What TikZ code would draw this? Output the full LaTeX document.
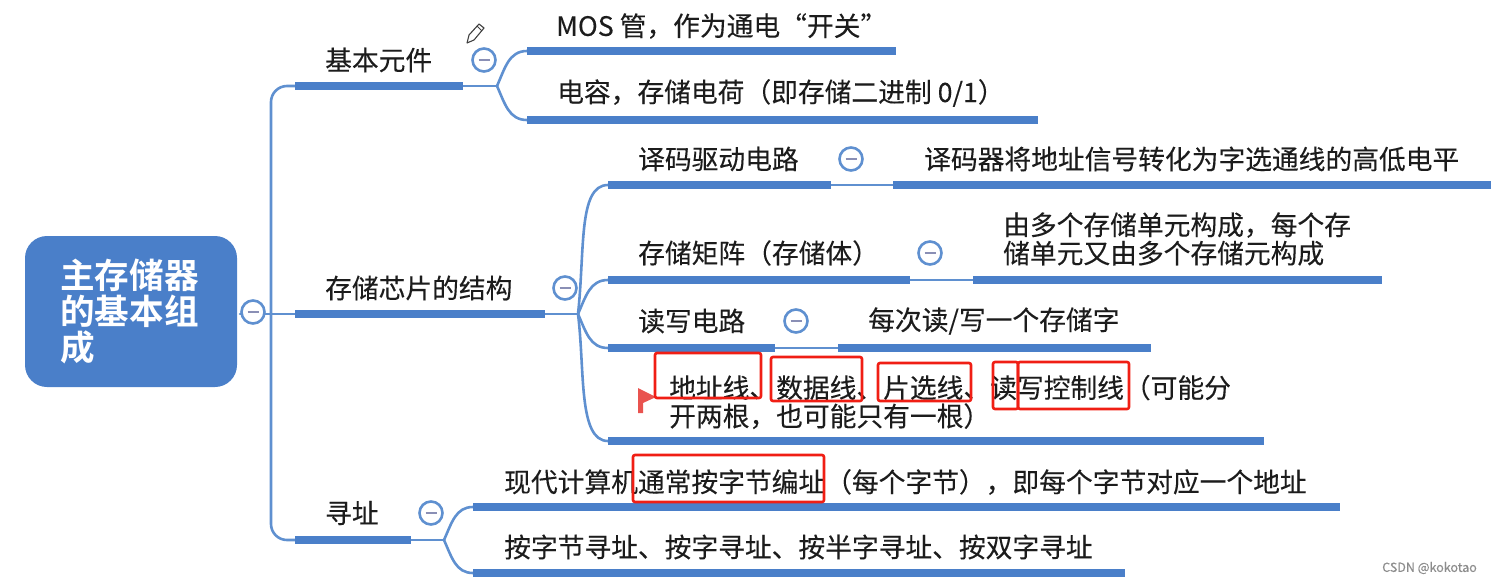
\documentclass[tikz,border=0pt]{standalone}
\usepackage{fontspec}
\setmainfont{Noto Sans CJK SC}[FakeBold=0.2]
\newfontfamily\rootfont{Noto Sans CJK SC Bold}
\usetikzlibrary{calc}
\definecolor{mapblue}{HTML}{4A7FC9}
\definecolor{linkblue}{HTML}{5F90D0}
\definecolor{minusgray}{HTML}{8A8FB5}
\definecolor{boxred}{HTML}{F01E14}
\definecolor{flagred}{HTML}{E9534F}
\definecolor{txt}{HTML}{1C1C1C}
\tikzset{
  lbl/.style={anchor=west,inner sep=0pt,text=txt,font=\fontsize{26.75}{28.4}\selectfont,align=left},
  bar/.style={line width=7.5pt,draw=mapblue},
  link/.style={line width=2.6pt,draw=linkblue,line cap=round},
  redbox/.style={draw=boxred,line width=2.6pt,rounded corners=2pt},
  rootbox/.style={fill=mapblue,draw=none,rounded corners=22pt,minimum width=212pt,minimum height=151pt,inner sep=0pt},
  toggle/.style={circle,fill=white,draw=linkblue,line width=2.6pt,minimum size=23pt,inner sep=0pt,
     path picture={\draw[minusgray,line width=2.2pt] ($(path picture bounding box.center)+(-5.5pt,0)$) -- ($(path picture bounding box.center)+(5.5pt,0)$);}},
}
\begin{document}
\begin{tikzpicture}[x=1pt,y=-1pt]
\useasboundingbox (0,0) rectangle (1491,582);
% coordinates
\coordinate (hubR) at (240,314);
\coordinate (spine) at (271,314);
\coordinate (a1) at (295,86);\coordinate (a2) at (463,86);
\coordinate (b1) at (295,314);\coordinate (b2) at (545,314);
\coordinate (c1) at (295,540);\coordinate (c2) at (411,540);
\coordinate (hubA) at (497,86);\coordinate (hubB) at (578,314);\coordinate (hubC) at (444,540);
\coordinate (a11) at (527,51);\coordinate (a12) at (896,51);
\coordinate (a21) at (527,120);\coordinate (a22) at (1038,120);
\coordinate (b11) at (608,185);\coordinate (b12) at (831,185);\coordinate (b13) at (893,185);\coordinate (b14) at (1491,185);
\coordinate (b21) at (608,280);\coordinate (b22) at (910,280);\coordinate (b23) at (973,280);\coordinate (b24) at (1382,280);
\coordinate (b31) at (608,348);\coordinate (b32) at (775,348);\coordinate (b33) at (838,348);\coordinate (b34) at (1151,348);
\coordinate (b41) at (608,441);\coordinate (b42) at (1264,441);
\coordinate (c11) at (473,507);\coordinate (c12) at (1340,507);
\coordinate (c21) at (473,573);\coordinate (c22) at (1125,573);
% links
\draw[link] (hubR) -- (b1);
\draw[link,rounded corners=16pt] (spine) |- (a1);
\draw[link,rounded corners=16pt] (spine) |- (c1);
\draw[link] (a2) -- (hubA);
\draw[link] (b2) -- (hubB);
\draw[link] (c2) -- (hubC);
\draw[link] (hubA) .. controls (505,68) and (509,51) .. (a11);
\draw[link] (hubA) .. controls (505,104) and (509,120) .. (a21);
\draw[link] (hubB) .. controls (585,250) and (578,185) .. (b11);
\draw[link] (hubB) .. controls (586,296) and (590,280) .. (b21);
\draw[link] (hubB) .. controls (586,332) and (590,348) .. (b31);
\draw[link] (hubB) .. controls (585,370) and (578,441) .. (b41);
\draw[link] (hubC) .. controls (452,522) and (456,507) .. (c11);
\draw[link] (hubC) .. controls (452,558) and (456,573) .. (c21);
\draw[link,line width=2pt] (b12) -- (b13);
\draw[link,line width=2pt] (b22) -- (b23);
\draw[link,line width=2pt] (b32) -- (b33);
% bars
\foreach \p/\q in {a1/a2,b1/b2,c1/c2,a11/a12,a21/a22,b11/b12,b13/b14,b21/b22,b23/b24,b31/b32,b33/b34,b41/b42,c11/c12,c21/c22}
  \draw[bar] (\p) -- (\q);
% root
\node[rootbox] (root) at (131,311.5) {};
\node[anchor=west,inner sep=0pt,text=white,align=left,font=\rootfont\fontsize{34.6}{36}\selectfont] (roottxt) at (60,311) {主存储器\\的基本组\\成};
% toggles
\node[toggle] (tR) at (253,312) {};
\node[toggle] (tA) at (484,60) {};
\node[toggle] (tB) at (565,288) {};
\node[toggle] (tC) at (431,513) {};
\node[toggle] (tB1) at (851,159) {};
\node[toggle] (tB2) at (930,253) {};
\node[toggle] (tB3) at (796,321) {};
% labels
\node[lbl] (la) at (325,60) {基本元件};
\node[lbl] (lb) at (325,288) {存储芯片的结构};
\node[lbl] (lc) at (325,513) {寻址};
\node[lbl] (la1) at (556,26) {MOS 管，作为通电“开关”};
\node[lbl] (la2) at (557,93) {电容，存储电荷（即存储二进制 0/1）};
\node[lbl] (lb1) at (638,159) {译码驱动电路};
\node[lbl] (lb1d) at (924,159) {译码器将地址信号转化为字选通线的高低电平};
\node[lbl] (lb2) at (638,253) {存储矩阵（存储体）};
\node[lbl] (lb2d) at (1003,239) {由多个存储单元构成，每个存\\储单元又由多个存储元构成};
\node[lbl] (lb3) at (638,321) {读写电路};
\node[lbl] (lb3d) at (868,321) {每次读/写一个存储字};
\node[lbl] (lb4) at (669,402) {地址线、数据线、片选线、读写控制线（可能分\\开两根，也可能只有一根）};
\node[lbl] (lc1) at (504,482) {现代计算机通常按字节编址（每个字节），即每个字节对应一个地址};
\node[lbl] (lc2) at (504,547) {按字节寻址、按字寻址、按半字寻址、按双字寻址};
% flag
\fill[flagred] (638,388) -- (656,397) -- (643,403) -- (643,413) -- (638,413) -- cycle;
% pencil
\draw[black!75,line width=1.1pt,line join=round,fill=white] (467,43) -- (469,35) -- (479,24) -- (484,28) -- (474,40) -- cycle;
\draw[black!75,line width=1pt] (477,26) -- (482,31);
% red boxes
\draw[redbox] (655,353) rectangle (761,398);
\draw[redbox] (771,357) rectangle (862,401);
\draw[redbox] (878,363) rectangle (971,401);
\draw[redbox] (993,362) rectangle (1018,409);
\draw[redbox] (1018,362) rectangle (1129,409);
\draw[redbox] (633,455) rectangle (824,502);
% watermark
\node[anchor=east,inner sep=0pt,text=black!45,font=\fontsize{12.5}{14}\selectfont] (wm) at (1477,568) {CSDN @kokotao};
\end{tikzpicture}
\end{document}
